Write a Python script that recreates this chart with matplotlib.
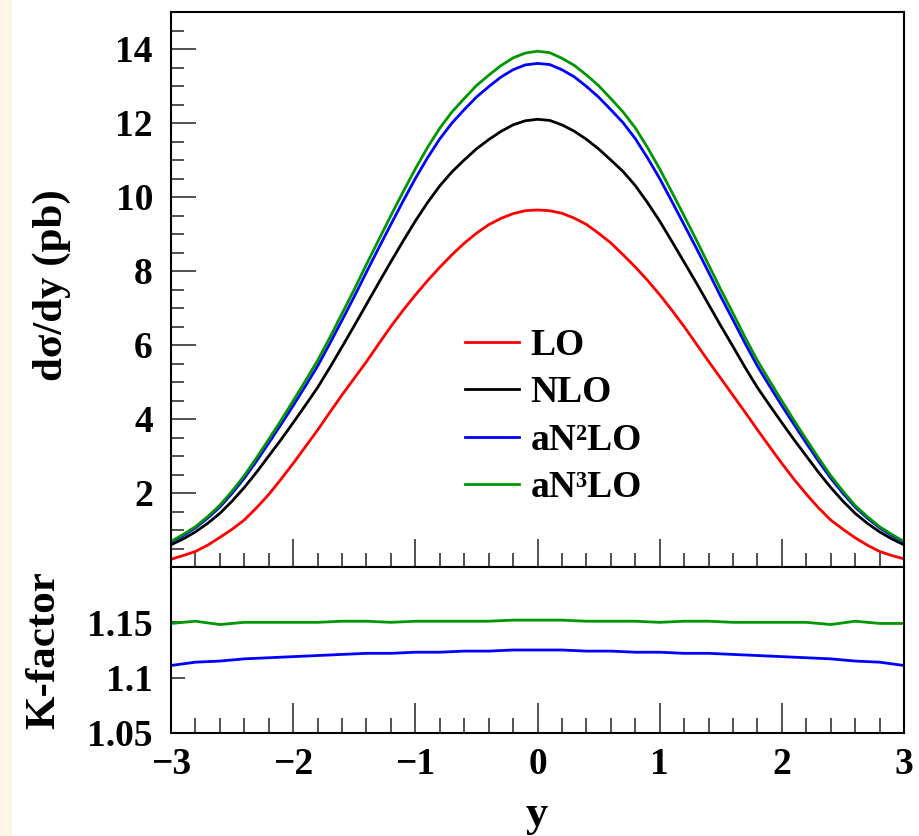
import numpy as np
import matplotlib
matplotlib.use('Agg')
import matplotlib.pyplot as plt
from matplotlib.ticker import MultipleLocator, FixedLocator
from matplotlib.patches import Rectangle

plt.rcParams['font.family'] = ['Liberation Serif', 'DejaVu Serif']
plt.rcParams['font.weight'] = 'bold'

# rapidity bins
rap = [-3.0, -2.9, -2.8, -2.7, -2.6, -2.5, -2.4, -2.3, -2.2, -2.1,
       -2.0, -1.9, -1.8, -1.7, -1.6, -1.5, -1.4, -1.3, -1.2, -1.1,
       -1.0, -0.9, -0.8, -0.7, -0.6, -0.5, -0.4, -0.3, -0.2, -0.1,
       0.0, 0.1, 0.2, 0.3, 0.4, 0.5, 0.6, 0.7, 0.8, 0.9,
       1.0, 1.1, 1.2, 1.3, 1.4, 1.5, 1.6, 1.7, 1.8, 1.9,
       2.0, 2.1, 2.2, 2.3, 2.4, 2.5, 2.6, 2.7, 2.8, 2.9, 3.0]

# d sigma / dy (pb)
lo = [0.21, 0.31, 0.42, 0.59, 0.80, 1.02, 1.27, 1.60, 1.96, 2.37,
      2.80, 3.25, 3.70, 4.18, 4.65, 5.10, 5.55, 6.03, 6.50, 6.94,
      7.35, 7.74, 8.10, 8.44, 8.75, 9.02, 9.25, 9.42, 9.55, 9.63,
      9.65, 9.63, 9.56, 9.43, 9.26, 9.02, 8.76, 8.44, 8.11, 7.75,
      7.36, 6.94, 6.50, 6.03, 5.56, 5.10, 4.64, 4.18, 3.71, 3.25,
      2.80, 2.37, 1.97, 1.60, 1.27, 1.02, 0.79, 0.59, 0.42, 0.31, 0.22]
nlo = [0.60, 0.76, 0.95, 1.18, 1.45, 1.78, 2.15, 2.56, 3.00, 3.44,
       3.90, 4.37, 4.85, 5.39, 5.95, 6.52, 7.10, 7.68, 8.25, 8.81,
       9.35, 9.85, 10.30, 10.68, 11.00, 11.30, 11.55, 11.77, 11.95, 12.06,
       12.10, 12.07, 11.95, 11.78, 11.56, 11.30, 11.00, 10.69, 10.31, 9.85,
       9.35, 8.80, 8.24, 7.68, 7.10, 6.52, 5.96, 5.39, 4.85, 4.37,
       3.90, 3.44, 3.00, 2.56, 2.15, 1.78, 1.45, 1.18, 0.95, 0.76, 0.60]
an2lo = [0.67, 0.85, 1.06, 1.32, 1.62, 1.99, 2.40, 2.86, 3.35, 3.85,
         4.36, 4.89, 5.43, 6.04, 6.67, 7.31, 7.97, 8.62, 9.26, 9.89,
         10.50, 11.06, 11.57, 12.00, 12.36, 12.70, 12.98, 13.24, 13.44, 13.57,
         13.61, 13.58, 13.44, 13.25, 12.99, 12.70, 12.36, 12.01, 11.58, 11.06,
         10.50, 9.88, 9.25, 8.62, 7.97, 7.31, 6.68, 6.04, 5.43, 4.89,
         4.36, 3.85, 3.35, 2.86, 2.40, 1.99, 1.62, 1.32, 1.06, 0.85, 0.67]
an3lo = [0.69, 0.88, 1.09, 1.36, 1.67, 2.05, 2.47, 2.95, 3.45, 3.96,
         4.49, 5.03, 5.58, 6.20, 6.85, 7.50, 8.18, 8.84, 9.50, 10.14,
         10.76, 11.34, 11.86, 12.30, 12.66, 13.01, 13.29, 13.55, 13.76, 13.89,
         13.94, 13.90, 13.75, 13.56, 13.30, 13.01, 12.66, 12.30, 11.87, 11.34,
         10.76, 10.13, 9.49, 8.84, 8.17, 7.50, 6.86, 6.20, 5.58, 5.03,
         4.49, 3.96, 3.45, 2.95, 2.47, 2.05, 1.66, 1.36, 1.09, 0.88, 0.69]

# K-factors (relative to NLO), coarser bins
rap_k = [-3.0, -2.8, -2.6, -2.4, -2.2, -2.0, -1.8, -1.6, -1.4, -1.2, -1.0,
         -0.8, -0.6, -0.4, -0.2, 0.0, 0.2, 0.4, 0.6, 0.8, 1.0,
         1.2, 1.4, 1.6, 1.8, 2.0, 2.2, 2.4, 2.6, 2.8, 3.0]
k_n2lo = [1.111, 1.114, 1.115, 1.117, 1.118, 1.119, 1.120, 1.121, 1.122, 1.122, 1.123,
          1.123, 1.124, 1.124, 1.125, 1.125, 1.125, 1.124, 1.124, 1.123, 1.123,
          1.122, 1.122, 1.121, 1.120, 1.119, 1.118, 1.117, 1.115, 1.114, 1.111]
k_n3lo = [1.149, 1.151, 1.148, 1.150, 1.150, 1.150, 1.150, 1.151, 1.151, 1.150, 1.151,
          1.151, 1.151, 1.151, 1.152, 1.152, 1.152, 1.151, 1.151, 1.151, 1.150,
          1.151, 1.151, 1.150, 1.150, 1.150, 1.150, 1.148, 1.151, 1.149, 1.149]

labels = ['LO', 'NLO', 'aN²LO', 'aN³LO']
colors = ['#ff0000', '#000000', '#0000ff', '#009600']

W, H = 919, 836
fig = plt.figure(figsize=(W / 100, H / 100), dpi=100)
fig.patches.append(Rectangle((0, 0), 11 / W, 1, transform=fig.transFigure,
                             color='#fdf5e6', zorder=-1))

left, right = 171 / W, 904 / W
ax1 = fig.add_axes([left, 1 - 567 / H, right - left, (567 - 12) / H])
ax2 = fig.add_axes([left, 1 - 733 / H, right - left, (733 - 567) / H], sharex=ax1)

for ys, c, lab in zip([lo, nlo, an2lo, an3lo], colors, labels):
    ax1.plot(rap, ys, color=c, lw=2.0, label=lab)
ax2.plot(rap_k, k_n2lo, color=colors[2], lw=2.0)
ax2.plot(rap_k, k_n3lo, color=colors[3], lw=2.0)

ax1.set_xlim(-3, 3)
ax1.set_ylim(0, 15)
ax2.set_ylim(1.05, 1.2)

for ax in (ax1, ax2):
    for s in ax.spines.values():
        s.set_linewidth(1.5)
    ax.tick_params(which='both', direction='in', top=False, right=False,
                   width=1.2, color='#333333')

ax1.yaxis.set_major_locator(FixedLocator([2, 4, 6, 8, 10, 12, 14]))
ax1.yaxis.set_minor_locator(MultipleLocator(0.5))
ax1.xaxis.set_major_locator(MultipleLocator(1))
ax1.xaxis.set_minor_locator(MultipleLocator(0.2))
ax1.tick_params(axis='y', which='major', length=18, labelsize=27, pad=13)
ax1.tick_params(axis='y', which='minor', length=9.5)
ax1.tick_params(axis='x', which='major', length=20, labelbottom=False)
ax1.tick_params(axis='x', which='minor', length=10)

ax2.set_yticks([1.05, 1.1, 1.15])
ax2.set_yticklabels(['1.05', '1.1', '1.15'])
ax2.tick_params(axis='y', which='major', length=10, labelsize=27, pad=13)
ax2.tick_params(axis='x', which='major', length=21.5, labelsize=27, pad=10)
ax2.tick_params(axis='x', which='minor', length=11)

for lab in ax1.get_yticklabels() + ax2.get_yticklabels() + ax2.get_xticklabels():
    lab.set_fontweight('bold')

fig.text(52 / W, 1 - 285 / H, 'dσ/dy (pb)', rotation=90, ha='center', va='center',
         fontsize=31, fontweight='bold')
fig.text(44 / W, 1 - 650 / H, 'K-factor', rotation=90, ha='center', va='center',
         fontsize=31, fontweight='bold')
fig.text(537 / W, 1 - 826 / H, 'y', ha='center', va='baseline',
         fontsize=32, fontweight='bold')

leg = ax1.legend(loc='upper left', bbox_to_anchor=(465 / W, 1 - 328 / H),
                 bbox_transform=fig.transFigure, frameon=False, fontsize=27,
                 handlelength=1.45, handletextpad=0.3, labelspacing=0.33,
                 borderpad=0, borderaxespad=0)
for t in leg.get_texts():
    t.set_fontweight('bold')

fig.savefig('out.png', dpi=100)
